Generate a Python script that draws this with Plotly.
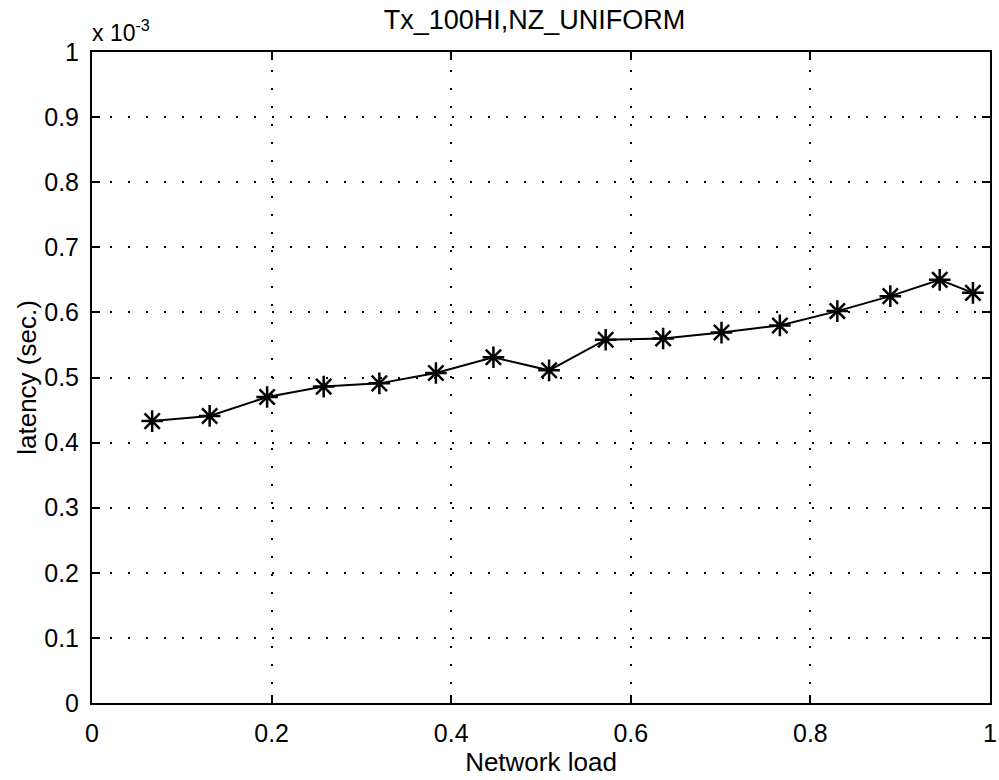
import plotly.graph_objects as go

# Data (network load vs latency in seconds)
network_load = [0.067, 0.131, 0.195, 0.258, 0.320, 0.383, 0.447, 0.509,
                0.572, 0.636, 0.701, 0.766, 0.830, 0.889, 0.944, 0.981]
latency_sec = [0.433e-3, 0.441e-3, 0.470e-3, 0.486e-3, 0.491e-3, 0.507e-3, 0.531e-3, 0.511e-3,
               0.558e-3, 0.560e-3, 0.569e-3, 0.580e-3, 0.602e-3, 0.625e-3, 0.650e-3, 0.630e-3]

x_ticks = [0, 0.2, 0.4, 0.6, 0.8, 1]
x_ticktext = ["0", "0.2", "0.4", "0.6", "0.8", "1"]
y_ticks = [i * 1e-4 for i in range(11)]
y_ticktext = ["0", "0.1", "0.2", "0.3", "0.4", "0.5", "0.6", "0.7", "0.8", "0.9", "1"]

title_text = "Tx_100HI,NZ_UNIFORM"
font_family = "Liberation Sans, Arial, sans-serif"

fig = go.Figure()
fig.add_trace(go.Scatter(
    x=network_load, y=latency_sec, mode="lines+markers",
    line=dict(color="black", width=2),
    marker=dict(symbol="asterisk-open", size=18, color="black",
                line=dict(color="black", width=2.5)),
    showlegend=False,
))

axis_common = dict(
    showline=True, linecolor="black", linewidth=2, mirror="ticks",
    ticks="inside", ticklen=8, tickwidth=1.5, tickcolor="black",
    showgrid=True, gridcolor="black", gridwidth=1.5, griddash="2px,16px",
    zeroline=False, ticklabeloverflow="allow",
    tickfont=dict(family=font_family, size=25, color="black"),
)

fig.update_xaxes(
    range=[0, 1], tickvals=x_ticks, ticktext=x_ticktext,
    ticklabelstandoff=7,
    title=dict(text="Network load", font=dict(family=font_family, size=26, color="black"), standoff=2),
    **axis_common,
)
fig.update_yaxes(
    range=[0, 1e-3], tickvals=y_ticks, ticktext=y_ticktext,
    ticklabelstandoff=6,
    title=dict(text="latency (sec.)", font=dict(family=font_family, size=26, color="black"), standoff=0),
    **axis_common,
)

fig.add_annotation(
    text="x 10<sup>-3</sup>", xref="paper", yref="paper", x=0.0, y=1.0,
    xanchor="left", yanchor="bottom", showarrow=False, xshift=-2, yshift=4,
    font=dict(family=font_family, size=23, color="black"),
)

fig.update_layout(
    width=999, height=780,
    margin=dict(l=92, r=2, t=52, b=77),
    paper_bgcolor="white", plot_bgcolor="white",
    title=dict(text=title_text, x=0.535, xanchor="center", y=0.975, yanchor="middle",
               font=dict(family=font_family, size=27, color="black")),
)

fig.write_html("out.html")
